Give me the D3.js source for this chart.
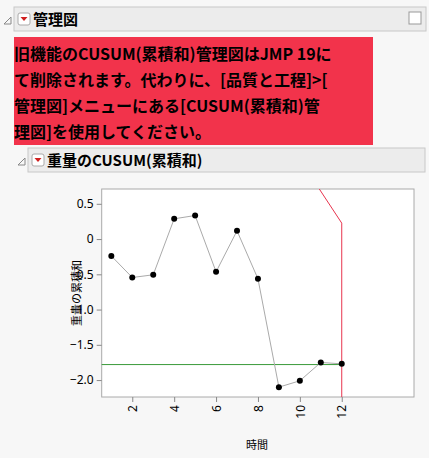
<!DOCTYPE html><html><head><meta charset="utf-8"><script src="https://cdn.jsdelivr.net/npm/d3@7"></script>
<style>body{margin:0;background:#f7f7f7;font-family:"Noto Sans CJK JP",sans-serif}</style></head><body>
<svg id="c" width="429" height="458"></svg>
<script>
const times=[1,2,3,4,5,6,7,8,9,10,11,12];
const cusum=[-0.24,-0.545,-0.507,0.287,0.334,-0.465,0.117,-0.564,-2.10,-2.01,-1.75,-1.77];
const xTicks=[2,4,6,8,10,12];
const yTicks=[0.5,0,-0.5,-1.0,-1.5,-2.0];
const target=-1.78;
const vmask=[[10.93,0.71],[12,0.226],[12,-2.24]];
const msg=["旧機能のCUSUM(累積和)管理図はJMP 19に","て削除されます。代わりに、[品質と工程]>[","管理図]メニューにある[CUSUM(累積和)管","理図]を使用してください。"];
const svg=d3.select("#c");
function header(x,y,w,h,t){
 svg.append("rect").attr("x",x).attr("y",y).attr("width",w).attr("height",h).attr("fill","#ececec").attr("stroke","#c8c8c8");
 svg.append("path").attr("d",`M${x-10},${y+h/2+5}l7,-7v7z`).attr("fill","none").attr("stroke","#888");
 svg.append("rect").attr("x",x+4).attr("y",y+h/2-6).attr("width",12).attr("height",12).attr("rx",2).attr("fill","#fff").attr("stroke","#aaa");
 svg.append("path").attr("d",`M${x+6.5},${y+h/2-2}h7l-3.5,4z`).attr("fill","#d02020");
 svg.append("text").attr("x",x+19).attr("y",y+h/2+6).attr("font-size",15).attr("font-weight","bold").text(t);
}
header(14,7,412,24,"管理図");
svg.append("rect").attr("x",409).attr("y",12).attr("width",12).attr("height",12).attr("fill","#fff").attr("stroke","#999");
svg.append("rect").attr("x",14).attr("y",37).attr("width",359).attr("height",108).attr("fill","#f2334b");
msg.forEach((m,i)=>svg.append("text").attr("x",14).attr("y",60+i*26).attr("font-size",16).attr("font-weight","bold").attr("fill","#000").text(m));
header(28,148,397,24,"重量のCUSUM(累積和)");
const x=d3.scaleLinear().domain([0.54,15.45]).range([101.7,414]);
const y=d3.scaleLinear().domain([0.71,-2.24]).range([189,397]);
svg.append("rect").attr("x",101.7).attr("y",189).attr("width",312.3).attr("height",208).attr("fill","#fff").attr("stroke","#aaa");
const ya=svg.append("g").attr("transform","translate(101.7,0)").call(d3.axisLeft(y).tickValues(yTicks).tickFormat(d3.format(".1f")).tickSize(5));
ya.selectAll("text").text(d=>d===0?"0":d3.format(".1f")(d).replace("-","-"));
const xa=svg.append("g").attr("transform","translate(0,397)").call(d3.axisBottom(x).tickValues(xTicks).tickSize(5));
xa.selectAll("text").attr("transform","rotate(-90)").attr("x",-8).attr("y",0).attr("dy","0.35em").style("text-anchor","end");
[ya,xa].forEach(a=>{a.select(".domain").remove();a.selectAll("line").attr("stroke","#888");a.selectAll("text").attr("font-size",12).attr("fill","#000").attr("font-family","Noto Sans, sans-serif");});
svg.append("line").attr("x1",101.7).attr("x2",x(12)).attr("y1",y(target)).attr("y2",y(target)).attr("stroke","#3a9a3a").attr("stroke-width",1);
svg.append("path").attr("d",d3.line().x(d=>x(d[0])).y(d=>y(d[1]))(vmask)).attr("fill","none").attr("stroke","#e8344e");
svg.append("path").attr("d",d3.line().x((d,i)=>x(times[i])).y(d=>y(d))(cusum)).attr("fill","none").attr("stroke","#aaa");
svg.selectAll("circle").data(cusum).join("circle").attr("cx",(d,i)=>x(times[i])).attr("cy",d=>y(d)).attr("r",3).attr("fill","#000");
svg.append("text").attr("transform","translate(81,293) rotate(-90)").attr("text-anchor","middle").attr("font-size",11).text("重量の累積和");
svg.append("text").attr("x",257).attr("y",449).attr("text-anchor","middle").attr("font-size",11).text("時間");
</script></body></html>
